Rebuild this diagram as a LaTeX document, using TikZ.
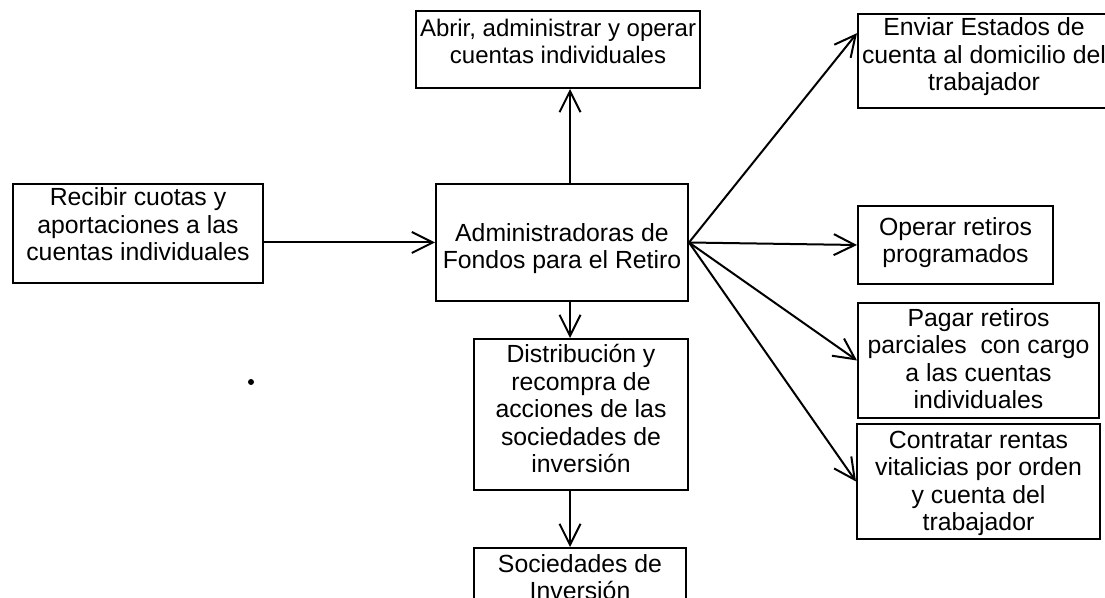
\documentclass[tikz,border=0pt]{standalone}
\usepackage{fontspec}
\setmainfont{Liberation Sans}
\usetikzlibrary{arrows.meta,calc}

\begin{document}
\begin{tikzpicture}[x=0.5pt,y=-0.5pt,
    caja/.style={draw, line width=1pt, align=center, inner sep=2pt,
        anchor=north west, font=\fontsize{12.4}{13.8}\selectfont},
    flecha/.style={line width=1pt, -{Straight Barb[length=10.5pt,width=10.5pt]}}]

    % Fix the frame of the picture
    \useasboundingbox (0,0) rectangle (1105,598);
    \clip (0,0) rectangle (1105,598);

    % Vertical axis of the middle column
    \coordinate (eje) at (570,0);

    % Central box
    \node[caja, minimum width=126pt, text height=40.5pt, text depth=14pt] (afore) at (435,183)
        {Administradoras de\\Fondos para el Retiro};

    % Box on the left
    \node[caja, minimum width=125pt, text height=36.5pt, text depth=9pt] (recibir) at (12,183)
        {Recibir cuotas y\\aportaciones a las\\cuentas individuales};

    % Middle column
    \node[caja, minimum width=141pt, text height=24.5pt, text depth=10pt,
        font=\fontsize{12}{13.8}\selectfont] (abrir) at (415,10)
        {Abrir, administrar y operar\\cuentas individuales};
    \node[caja, minimum width=107pt, text height=65pt, text depth=6.5pt] (distrib) at (473,338)
        {Distribución y\\recompra de\\acciones de las\\sociedades de\\inversión};
    \node[caja, minimum width=106pt, text height=24pt, text depth=15pt] (sociedades) at (473,547)
        {Sociedades de\\Inversión};

    % Boxes on the right
    \node[caja, minimum width=122.5pt, text height=36.5pt, text depth=6.5pt] (enviar) at (857,13)
        {Enviar Estados de\\cuenta al domicilio del\\trabajador};
    \node[caja, minimum width=97.5pt, text height=26.5pt, text depth=8.5pt] (operar) at (857,205)
        {Operar retiros\\programados};
    \node[caja, minimum width=120.5pt, text height=51pt, text depth=2.5pt] (pagar) at (857,302)
        {Pagar retiros\\parciales~ con cargo\\a las cuentas\\individuales};
    \node[caja, minimum width=121.5pt, text height=51.5pt, text depth=2pt] (contratar) at (856,423)
        {Contratar rentas\\vitalicias por orden\\y cuenta del\\trabajador};

    % Arrows of the middle column
    \draw[flecha] (recibir.east |- afore.west) -- (afore.west);
    \draw[flecha] (afore.north -| eje) -- (abrir.south -| eje);
    \draw[flecha] (afore.south -| eje) -- (distrib.north -| eje);
    \draw[flecha] (distrib.south -| eje) -- (sociedades.north -| eje);

    % Fan of arrows to the right
    \draw[flecha] (afore.east) -- ($(enviar.north west)!0.21!(enviar.south west)$);
    \draw[flecha] (afore.east) -- (operar.west);
    \draw[flecha] (afore.east) -- (pagar.west);
    \draw[flecha] (afore.east) -- (contratar.west);

    % Stray dot
    \fill (251,382) circle (1.5pt);

\end{tikzpicture}
\end{document}
